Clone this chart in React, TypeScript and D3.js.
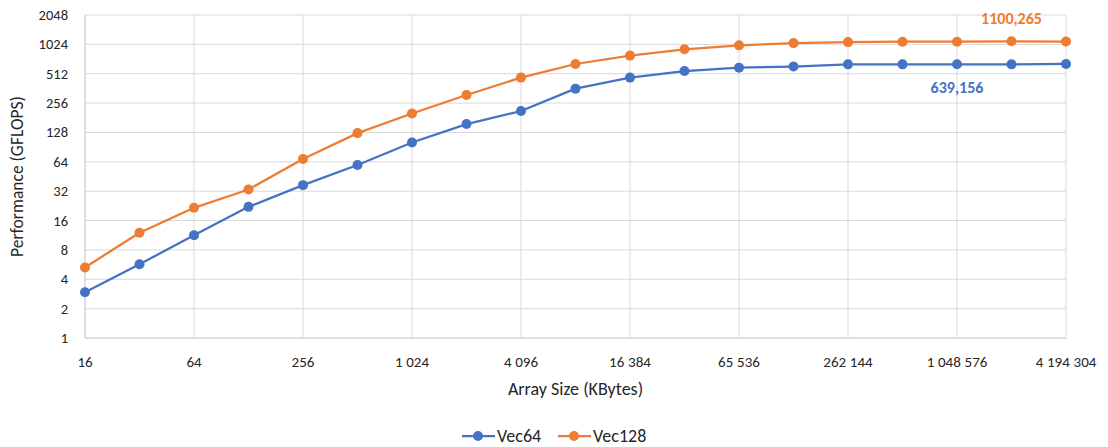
import * as d3 from "d3";
import React, { useEffect, useRef } from "react";

// array sizes in KBytes, 2^4 .. 2^22
const sizes = d3.range(4, 23).map((p) => Math.pow(2, p));
const vec64 = [2.94, 5.7, 11.3, 22.1, 36.9, 59.4, 101, 156, 212, 360, 467, 545, 591, 606, 639, 639, 639.156, 639, 645];
const vec128 = [5.29, 12.0, 21.6, 33.3, 68.5, 126, 200, 310, 467, 644, 785, 911, 1000, 1055, 1080, 1090, 1090, 1100.265, 1095];
const xTicks = [16, 64, 256, 1024, 4096, 16384, 65536, 262144, 1048576, 4194304];
const yTicks = [1, 2, 4, 8, 16, 32, 64, 128, 256, 512, 1024, 2048];
const seriesNames = ["Vec64", "Vec128"];
const colors = ["#4472C4", "#ED7D31"];

const W = 1108;
const H = 447;
const margin = { left: 85, right: 42, top: 15, bottom: 109 };
const FONT = "Carlito, Calibri, Lato, 'Open Sans', sans-serif";

const App = () => {
  const ref = useRef<SVGSVGElement>(null);

  useEffect(() => {
    const svg = d3.select(ref.current);
    svg.selectAll("*").remove();
    const width = W - margin.left - margin.right;
    const height = H - margin.top - margin.bottom;

    const x = d3.scaleLog().base(2).domain([16, 4194304]).range([0, width]);
    const y = d3.scaleLog().base(2).domain([1, 2048]).range([height, 0]);
    const fmt = d3.formatLocale({ decimal: ",", thousands: "\u2005", grouping: [3], currency: ["", ""] }).format(",d");

    const g = svg.append("g").attr("transform", `translate(${margin.left},${margin.top})`);

    // grid
    g.append("g").selectAll("line").data(yTicks).enter().append("line")
      .attr("x1", 0).attr("x2", width)
      .attr("y1", (d) => y(d)).attr("y2", (d) => y(d))
      .attr("stroke", (d) => (d === 1 ? "#bfbfbf" : "#d9d9d9")).attr("stroke-width", 1);
    g.append("g").selectAll("line").data(xTicks).enter().append("line")
      .attr("x1", (d) => x(d)).attr("x2", (d) => x(d))
      .attr("y1", 0).attr("y2", height)
      .attr("stroke", (d) => (d === 16 ? "#bfbfbf" : "#d9d9d9")).attr("stroke-width", 1);

    // tick labels
    g.append("g").selectAll("text").data(yTicks).enter().append("text")
      .attr("x", -17).attr("y", (d) => y(d) + 5)
      .attr("text-anchor", "end").attr("font-size", 14.5).attr("font-family", FONT).attr("fill", "#262626")
      .text((d) => String(d));
    g.append("g").selectAll("text").data(xTicks).enter().append("text")
      .attr("x", (d) => x(d)).attr("y", height + 29)
      .attr("text-anchor", "middle").attr("font-size", 15).attr("font-family", FONT).attr("fill", "#262626")
      .text((d) => fmt(d));

    // axis titles
    svg.append("text")
      .attr("transform", `translate(23,${margin.top + height / 2}) rotate(-90)`)
      .attr("text-anchor", "middle").attr("font-size", 17.5).attr("font-family", FONT).attr("fill", "#262626")
      .text("Performance (GFLOPS)");
    svg.append("text")
      .attr("x", margin.left + width / 2).attr("y", 395)
      .attr("text-anchor", "middle").attr("font-size", 18).attr("font-family", FONT).attr("fill", "#262626")
      .text("Array Size (KBytes)");

    // series
    const data = [vec64, vec128];
    const line = d3.line<number>().x((_, i) => x(sizes[i])).y((d) => y(d));
    data.forEach((vals, si) => {
      g.append("path").datum(vals)
        .attr("fill", "none").attr("stroke", colors[si]).attr("stroke-width", 2.25)
        .attr("stroke-linejoin", "round").attr("d", line);
      g.append("g").selectAll("circle").data(vals).enter().append("circle")
        .attr("cx", (_, i) => x(sizes[i])).attr("cy", (d) => y(d)).attr("r", 5)
        .attr("fill", colors[si]);
    });

    // data labels
    const lab = (vals: number[], idx: number, dy: number, color: string) => {
      g.append("text")
        .attr("x", x(sizes[idx])).attr("y", y(vals[idx]) + dy)
        .attr("text-anchor", "middle").attr("font-size", 16).attr("font-weight", "bold")
        .attr("font-family", FONT).attr("fill", color)
        .text(vals[idx].toFixed(3).replace(".", ","));
    };
    lab(vec64, 16, 29, colors[0]);
    lab(vec128, 17, -17, colors[1]);

    // legend
    const legendX = [462, 558];
    seriesNames.forEach((name, i) => {
      const lg = svg.append("g").attr("transform", `translate(${legendX[i]},436)`);
      lg.append("line").attr("x1", 0).attr("x2", 33).attr("y1", 0).attr("y2", 0)
        .attr("stroke", colors[i]).attr("stroke-width", 2.25);
      lg.append("circle").attr("cx", 16).attr("cy", 0).attr("r", 5).attr("fill", colors[i]);
      lg.append("text").attr("x", 35).attr("y", 6)
        .attr("font-size", 18).attr("font-family", FONT).attr("fill", "#262626")
        .text(name);
    });
  }, []);

  return (
    <svg ref={ref} width={W} height={H}
      style={{ position: "absolute", left: 0, top: 0, background: "#fff" }} />
  );
};

export default App;
